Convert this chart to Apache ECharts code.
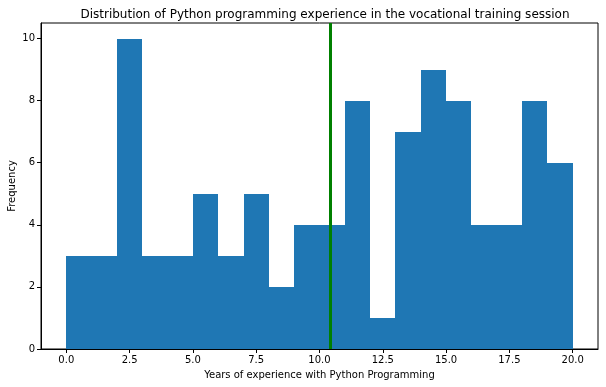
<!DOCTYPE html>
<html>
<head>
<meta charset="utf-8">
<script src="https://cdn.jsdelivr.net/npm/echarts@6/dist/echarts.min.js"></script>
<style>html,body{margin:0;padding:0;background:#fff;}#c{width:606px;height:387px;}</style>
</head>
<body>
<div id="c"></div>
<script>
var binEdges = [0,1,2,3,4,5,6,7,8,9,10,11,12,13,14,15,16,17,18,19,20];
var counts = [3,3,10,3,3,5,3,5,2,4,4,8,1,7,9,8,4,4,8,6];
var meanValue = 10.43;
var xTicks = [0,2.5,5,7.5,10,12.5,15,17.5,20];
var yTicks = [0,2,4,6,8,10];

var barData = counts.map(function(c,i){ return [binEdges[i], binEdges[i+1], c]; });
var font = 'DejaVu Sans';
var chart = echarts.init(document.getElementById('c'), null, {renderer:'canvas'});
chart.setOption({
  animation:false,
  title:{text:'Distribution of Python programming experience in the vocational training session',
    left:320, textAlign:'center', top:4,
    textStyle:{fontFamily:font,fontSize:12,fontWeight:'normal',color:'#000'}},
  grid:{left:41,right:8,top:23,bottom:38,show:true,borderColor:'#000',borderWidth:1,
    backgroundColor:'transparent',containLabel:false,outerBoundsMode:'none'},
  xAxis:{type:'value',min:-1,max:21,
    name:'Years of experience with Python Programming',nameLocation:'middle',nameGap:21,
    nameMoveOverlap:false,
    nameTextStyle:{fontFamily:font,fontSize:10,color:'#000'},
    axisLine:{show:true,onZero:false,lineStyle:{color:'#000'}},
    axisTick:{show:true,length:4,lineStyle:{color:'#000'},customValues:xTicks},
    axisLabel:{fontFamily:font,fontSize:10,color:'#000',margin:6,customValues:xTicks,
      formatter:function(v){return v.toFixed(1);}},
    splitLine:{show:false}},
  yAxis:{type:'value',min:0,max:10.5,
    name:'Frequency',nameLocation:'middle',nameGap:24,
    nameMoveOverlap:false,
    nameTextStyle:{fontFamily:font,fontSize:10,color:'#000'},
    axisLine:{show:true,onZero:false,lineStyle:{color:'#000'}},
    axisTick:{show:true,length:4,lineStyle:{color:'#000'},customValues:yTicks},
    axisLabel:{fontFamily:font,fontSize:10,color:'#000',margin:6,customValues:yTicks},
    splitLine:{show:false}},
  series:[{
    type:'custom',
    data:barData,
    encode:{x:[0,1],y:2},
    renderItem:function(params,api){
      var p1 = api.coord([api.value(0), api.value(2)]);
      var p2 = api.coord([api.value(1), 0]);
      var x0 = Math.round(p1[0]), x1 = Math.round(p2[0]);
      var y0 = Math.round(p1[1]), y1 = Math.round(p2[1]);
      return {type:'rect',shape:{x:x0,y:y0,width:x1-x0,height:y1-y0},
        style:{fill:'#1f77b4'}};
    },
    markLine:{silent:true,symbol:['none','none'],label:{show:false},
      lineStyle:{color:'#008000',width:3,type:'solid'},
      data:[{xAxis:meanValue}]}
  }]
});
</script>
</body>
</html>
